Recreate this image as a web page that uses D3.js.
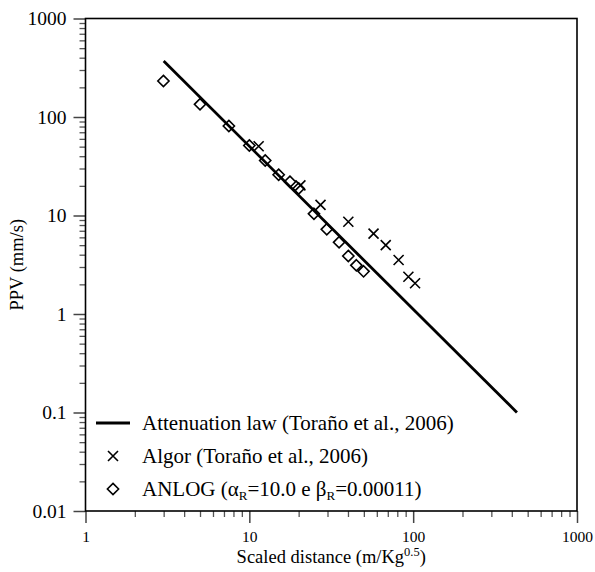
<!DOCTYPE html>
<html>
<head>
<meta charset="utf-8">
<script src="https://cdn.jsdelivr.net/npm/d3@7"></script>
<style>
  body { margin: 0; background: #fff; }
  svg text { font-family: 'Liberation Serif', 'Times New Roman', serif; fill: #000; }
</style>
</head>
<body>
<script>
/* global d3 */

// Data
const lawSD = [3, 430];
const lawPPV = [370, 0.1];

const algorSD = [11.4, 20.5, 27.2, 40.2, 57.3, 68.0, 81.5, 93.5, 102.7];
const algorPPV = [50.5, 20.2, 12.8, 8.65, 6.55, 5.0, 3.53, 2.39, 2.05];

const anlogSD = [2.99, 5.0, 7.5, 10.0, 12.5, 15.1, 17.7, 20.0, 24.8, 29.7, 35.3, 40.2, 45.0, 49.8];
const anlogPPV = [232, 134.5, 81, 51.4, 36.2, 25.9, 22.0, 18.8, 10.4, 7.24, 5.34, 3.88, 3.12, 2.71];

const xTicks = [1, 10, 100, 1000];
const xTickLabels = ['1', '10', '100', '1000'];
const yTicks = [0.01, 0.1, 1, 10, 100, 1000];
const yTickLabels = ['0.01', '0.1', '1', '10', '100', '1000'];

// SVG setup
const width = 595;
const height = 572;
const margin = {top: 18.5, right: 18, bottom: 61, left: 85.5};
const plotW = width - margin.left - margin.right;
const plotH = height - margin.top - margin.bottom;
const serif = 'Liberation Serif, Times New Roman, serif';

const svg = d3.select('body')
.append('svg')
.attr('width', width)
.attr('height', height)
.attr('font-family', serif);

const g = svg.append('g')
.attr('transform', `translate(${margin.left},${margin.top})`);

// Scales
const xScale = d3.scaleLog()
.domain([1, 1000])
.range([0, plotW]);

const yScale = d3.scaleLog()
.domain([0.01, 1000])
.range([plotH, 0]);

const isMajor = v => Math.abs(Math.log10(v) - Math.round(Math.log10(v))) < 1e-9;

// Minor ticks
g.append('g')
.attr('transform', `translate(0,${plotH})`)
.call(d3.axisBottom(xScale).tickValues(xScale.ticks().filter(v => !isMajor(v))).tickSize(6).tickSizeOuter(0).tickFormat(''))
.call(a => a.select('.domain').remove())
.call(a => a.selectAll('line').attr('stroke', '#555').attr('stroke-width', 1.3));

g.append('g')
.call(d3.axisLeft(yScale).tickValues(yScale.ticks().filter(v => !isMajor(v))).tickSize(6).tickSizeOuter(0).tickFormat(''))
.call(a => a.select('.domain').remove())
.call(a => a.selectAll('line').attr('stroke', '#555').attr('stroke-width', 1.3));

// Major ticks
const xAxis = g.append('g')
.attr('transform', `translate(0,${plotH})`)
.call(d3.axisBottom(xScale).tickValues(xTicks).tickSize(12).tickSizeOuter(0).tickPadding(8)
  .tickFormat((d, i) => xTickLabels[i]));

xAxis.selectAll('text')
.style('font-size', '15.5px')
.attr('dy', '0.71em');

const yAxis = g.append('g')
.call(d3.axisLeft(yScale).tickValues(yTicks).tickSize(12).tickSizeOuter(0).tickPadding(7)
  .tickFormat((d, i) => yTickLabels[i]));

yAxis.selectAll('text')
.style('font-size', '19.5px');

[xAxis, yAxis].forEach(a => {
    a.attr('font-family', serif);
    a.selectAll('line').attr('stroke', '#444').attr('stroke-width', 1.5);
    a.select('.domain').remove();
});

// Frame
g.append('rect')
.attr('width', plotW)
.attr('height', plotH)
.attr('fill', 'none')
.attr('stroke', '#000')
.attr('stroke-width', 1.6);

// Attenuation law line
const line = d3.line()
.x(d => xScale(d[0]))
.y(d => yScale(d[1]));

g.append('path')
.datum(d3.zip(lawSD, lawPPV))
.attr('d', line)
.attr('fill', 'none')
.attr('stroke', '#000')
.attr('stroke-width', 2.8);

// Markers
const crossPath = 'M-5,-5L5,5M-5,5L5,-5';
const diamondPath = 'M0,-5.6L5.6,0L0,5.6L-5.6,0Z';

g.selectAll('.anlog')
.data(d3.zip(anlogSD, anlogPPV))
.enter()
.append('path')
.attr('class', 'anlog')
.attr('d', diamondPath)
.attr('transform', d => `translate(${xScale(d[0])},${yScale(d[1])})`)
.attr('fill', 'none')
.attr('stroke', '#000')
.attr('stroke-width', 1.6);

g.selectAll('.algor')
.data(d3.zip(algorSD, algorPPV))
.enter()
.append('path')
.attr('class', 'algor')
.attr('d', crossPath)
.attr('transform', d => `translate(${xScale(d[0])},${yScale(d[1])})`)
.attr('fill', 'none')
.attr('stroke', '#000')
.attr('stroke-width', 1.6);

// Axis titles
svg.append('text')
.attr('x', margin.left + plotW / 2)
.attr('y', 563)
.attr('text-anchor', 'middle')
.style('font-size', '18.5px')
.call(t => {
    t.append('tspan').text('Scaled distance (m/Kg');
    t.append('tspan').text('0.5').attr('dy', -7).style('font-size', '12.5px');
    t.append('tspan').text(')').attr('dy', 7);
});

svg.append('text')
.attr('transform', `translate(23,${margin.top + plotH / 2}) rotate(-90)`)
.attr('text-anchor', 'middle')
.style('font-size', '18.5px')
.text('PPV (mm/s)');

// Legend
const legend = svg.append('g');
const rowY = [423, 456, 489];
const textX = 142;

legend.append('line')
.attr('x1', 96).attr('x2', 130)
.attr('y1', rowY[0]).attr('y2', rowY[0])
.attr('stroke', '#000')
.attr('stroke-width', 2.8);

legend.append('path')
.attr('d', crossPath)
.attr('transform', `translate(113,${rowY[1]})`)
.attr('stroke', '#000')
.attr('stroke-width', 1.6);

legend.append('path')
.attr('d', diamondPath)
.attr('transform', `translate(113,${rowY[2]})`)
.attr('fill', 'none')
.attr('stroke', '#000')
.attr('stroke-width', 1.6);

legend.append('text')
.attr('x', textX).attr('y', rowY[0]).attr('dy', '0.35em')
.style('font-size', '21px')
.text('Attenuation law (Toraño et al., 2006)');

legend.append('text')
.attr('x', textX).attr('y', rowY[1]).attr('dy', '0.35em')
.style('font-size', '21px')
.text('Algor (Toraño et al., 2006)');

legend.append('text')
.attr('x', textX).attr('y', rowY[2]).attr('dy', '0.35em')
.style('font-size', '21px')
.call(t => {
    t.append('tspan').text('ANLOG (α');
    t.append('tspan').text('R').attr('dy', 4).style('font-size', '13px');
    t.append('tspan').text('=10.0 e β').attr('dy', -4);
    t.append('tspan').text('R').attr('dy', 4).style('font-size', '13px');
    t.append('tspan').text('=0.00011)').attr('dy', -4);
});
</script>
</body>
</html>
